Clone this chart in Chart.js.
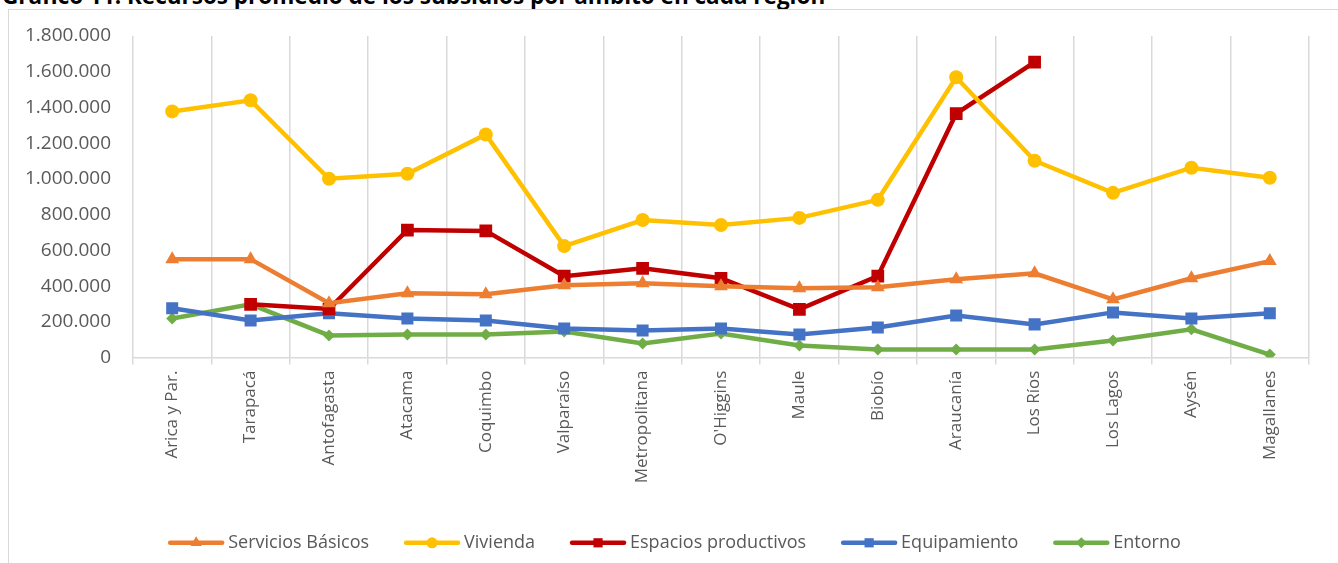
<!DOCTYPE html>
<html>
<head>
<meta charset="utf-8">
<script src="https://cdn.jsdelivr.net/npm/chart.js@4.4.1/dist/chart.umd.min.js"></script>
<style>
  html, body { margin: 0; padding: 0; background: #fff; overflow: hidden; }
  #wrap { position: relative; width: 1338px; height: 563px; overflow: hidden; }
  #frame { position: absolute; left: 8px; top: 9px; width: 1340px; height: 570px; border: 1.5px solid #D9D9D9; box-sizing: border-box; }
  #title { position: absolute; left: 2px; top: -20px; font: bold 22.5px "Open Sans", sans-serif; color: #000; white-space: nowrap; }
  canvas { position: absolute; left: 0; top: 0; }
</style>
</head>
<body>
<div id="wrap">
  <div id="title">Gráfico 11: Recursos promedio de los subsidios por ámbito en cada región</div>
  <div id="frame"></div>
  <canvas id="chart" width="1338" height="563"></canvas>
</div>
<script>
const regiones = ['Arica y Par.', 'Tarapacá', 'Antofagasta', 'Atacama', 'Coquimbo', 'Valparaíso', 'Metropolitana',
    "O'Higgins", 'Maule', 'Biobío', 'Araucanía', 'Los Ríos', 'Los Lagos', 'Aysén', 'Magallanes']

const serviciosBasicos = [551000, 551000, 304000, 360000, 354000, 405000, 416000, 400000, 388000, 394000, 439000, 472000, 326000, 444000, 540000]
const vivienda = [1378000, 1440000, 1001000, 1029000, 1249000, 624000, 770000, 742000, 782000, 883000, 1569000, 1102000, 922000, 1063000, 1007000]
const espaciosProductivos = [null, 298000, 272000, 714000, 709000, 456000, 500000, 444000, 270000, 456000, 1366000, 1654000, null, null, null]
const equipamiento = [276000, 208000, 248000, 219000, 208000, 163000, 152000, 163000, 129000, 169000, 236000, 186000, 253000, 219000, 248000]
const entorno = [219000, 298000, 124000, 129000, 129000, 146000, 79000, 135000, 68000, 45000, 45000, 45000, 96000, 158000, 17000]

const yTicks = [0, 200000, 400000, 600000, 800000, 1000000, 1200000, 1400000, 1600000, 1800000]

const FONT = '"Open Sans", sans-serif'
const LINE_LEN = 56
const LEGEND_SHIFT = 20

function miles(v) {
    return String(v).replace(/\B(?=(\d{3})+(?!\d))/g, '.')
}

function serie(label, data, color, style, radius) {
    return {
        label: label,
        data: data,
        borderColor: color,
        backgroundColor: color,
        borderWidth: 4.5,
        pointStyle: style,
        pointRadius: radius,
        pointHoverRadius: radius,
        pointBorderWidth: 0,
        tension: 0,
        spanGaps: false
    }
}

// legend marker size per point style
const legendRadius = { triangle: 6.5, circle: 5.5, rect: 6.5, rectRot: 5.5 }

// legend: move it a bit right, then draw line + marker over the (invisible) default box
const legendMarkers = {
    id: 'legendMarkers',
    afterUpdate(chart) {
        const lg = chart.legend
        if (!lg || !lg.legendHitBoxes) return
        lg.left += LEGEND_SHIFT
        lg.right += LEGEND_SHIFT
        lg.legendHitBoxes.forEach(b => { b.left += LEGEND_SHIFT })
    },
    afterDraw(chart) {
        const lg = chart.legend
        if (!lg || !lg.legendHitBoxes) return
        const ctx = chart.ctx
        lg.legendHitBoxes.forEach((box, i) => {
            const ds = chart.data.datasets[i]
            const cy = box.top + box.height / 2
            ctx.save()
            ctx.strokeStyle = ds.borderColor
            ctx.fillStyle = ds.borderColor
            ctx.lineWidth = 4.5
            ctx.lineCap = 'round'
            ctx.beginPath()
            ctx.moveTo(box.left + 2, cy)
            ctx.lineTo(box.left + LINE_LEN - 2, cy)
            ctx.stroke()
            Chart.helpers.drawPoint(ctx, { pointStyle: ds.pointStyle, radius: legendRadius[ds.pointStyle], borderWidth: 0 },
                box.left + LINE_LEN / 2, cy)
            ctx.restore()
        })
    }
}

const ctx = document.getElementById('chart').getContext('2d')
new Chart(ctx, {
    type: 'line',
    data: {
        labels: regiones,
        datasets: [
            serie('Servicios Básicos', serviciosBasicos, '#ED7D31', 'triangle', 8),
            serie('Vivienda', vivienda, '#FFC000', 'circle', 7),
            serie('Espacios productivos', espaciosProductivos, '#C00000', 'rect', 9),
            serie('Equipamiento', equipamiento, '#4472C4', 'rect', 8.5),
            serie('Entorno', entorno, '#70AD47', 'rectRot', 6)
        ]
    },
    options: {
        responsive: false,
        animation: false,
        events: [],
        layout: { padding: { left: 0, right: 29, top: 36, bottom: 1.2 } },
        scales: {
            x: {
                offset: true,
                grid: { display: true, offset: true, color: '#D9D9D9', lineWidth: 1.5, drawTicks: true, tickLength: 7 },
                border: { display: true, color: '#D9D9D9', width: 1.5 },
                ticks: { color: '#595959', font: { family: FONT, size: 17 }, minRotation: 90, maxRotation: 90, padding: 6, autoSkip: false },
                afterFit(scale) { scale.height = 141.2 }
            },
            y: {
                min: 0,
                max: 1800000,
                afterBuildTicks(scale) { scale.ticks = yTicks.map(v => ({ value: v })) },
                grid: { display: false, drawTicks: false },
                border: { display: false },
                ticks: { color: '#595959', font: { family: FONT, size: 19 }, padding: 22, callback: v => miles(v) },
                afterFit(scale) { scale.width = 133 }
            }
        },
        plugins: {
            tooltip: { enabled: false },
            legend: {
                position: 'bottom',
                labels: {
                    color: '#595959',
                    font: { family: FONT, size: 18 },
                    boxWidth: 51,
                    boxHeight: 5,
                    padding: 35,
                    generateLabels(chart) {
                        return Chart.defaults.plugins.legend.labels.generateLabels(chart)
                            .map(l => Object.assign(l, { lineWidth: 0, fillStyle: 'rgba(0,0,0,0)', strokeStyle: 'rgba(0,0,0,0)' }))
                    }
                }
            }
        }
    },
    plugins: [legendMarkers]
})
</script>
</body>
</html>
